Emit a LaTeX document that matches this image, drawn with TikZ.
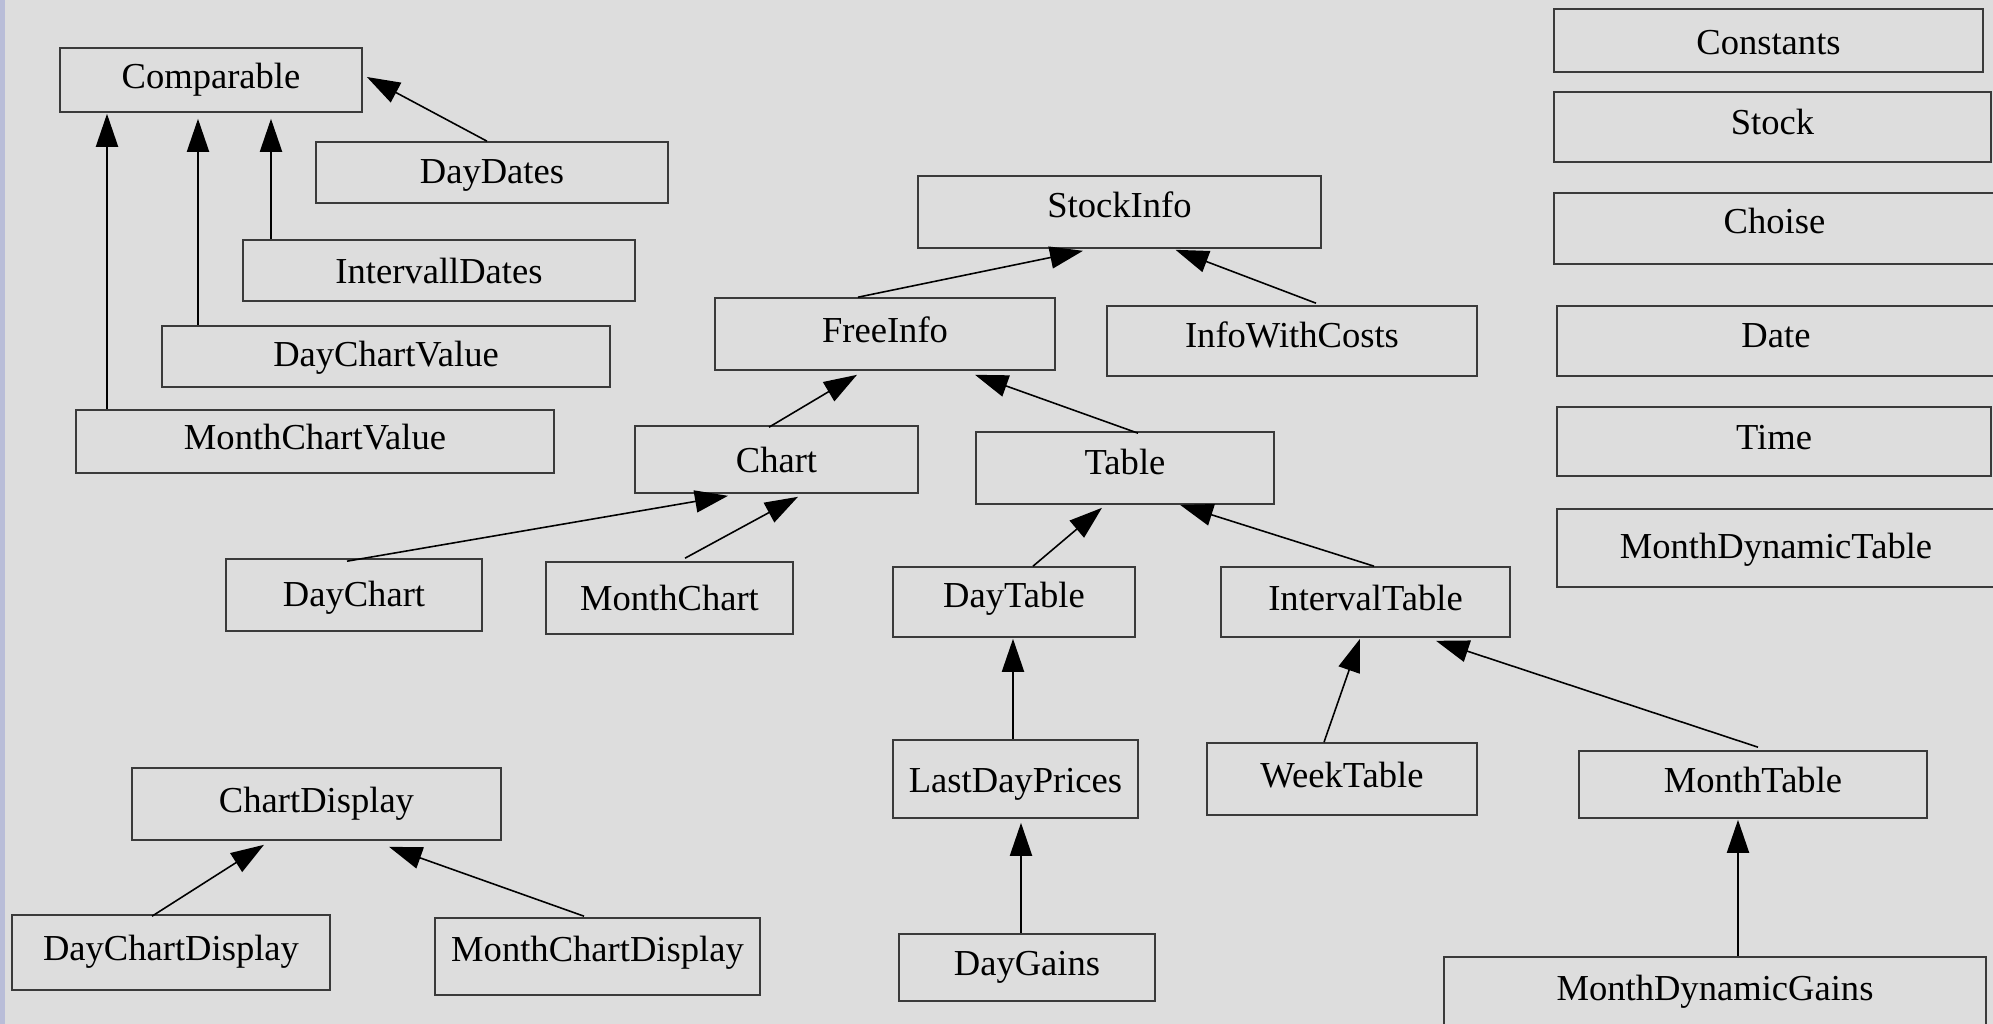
\documentclass[tikz,border=0pt]{standalone}
\usepackage{fontspec}
\setmainfont{Liberation Serif}
\usepackage{xcolor}
\usepackage{tikz}
\usetikzlibrary{arrows.meta,calc}

\definecolor{bg}{HTML}{DDDDDD}
\definecolor{strip}{HTML}{B9BDD8}
\definecolor{boxline}{HTML}{3A3A3A}

\tikzset{
  cls/.style={draw=boxline, line width=0.45pt, inner sep=0pt,
    font=\fontsize{10.4}{12}\selectfont, text height=7.2pt, text depth=2.6pt},
  tx/.style 2 args={text height=#1, text depth=#2},
  inh/.style={-{Triangle[length=9.4pt,width=6.3pt]}, line width=0.45pt, black}
}

\begin{document}
\begin{tikzpicture}[x=0.01cm, y=-0.01cm]
  \useasboundingbox (0,0) rectangle (1993,1024);
  \clip (0,0) rectangle (1993,1024);
  \fill[bg] (0,0) rectangle (1993,1024);
  \fill[strip] (0,0) rectangle (5,1024);

  % Comparable group
  \node[cls, minimum width=3.02cm, minimum height=0.64cm] (comp) at (211,80) {Comparable};
  \node[cls, tx={7.91pt}{1.89pt}, minimum width=3.52cm, minimum height=0.61cm] (dd) at (492,172.5) {DayDates};
  \node[cls, tx={8.48pt}{1.32pt}, minimum width=3.92cm, minimum height=0.61cm] (idd) at (439,270.5) {IntervallDates};
  \node[cls, tx={7.63pt}{2.17pt}, minimum width=4.48cm, minimum height=0.61cm] (dcv) at (386,356.5) {DayChartValue};
  \node[cls, minimum width=4.78cm, minimum height=0.63cm] (mcv) at (315,441.5) {MonthChartValue};

  % info tree
  \node[cls, tx={6.35pt}{3.45pt}, minimum width=4.03cm, minimum height=0.72cm] (si) at (1119.5,212) {StockInfo};
  \node[cls, minimum width=3.40cm, minimum height=0.72cm] (fi) at (885,334) {FreeInfo};
  \node[cls, tx={6.63pt}{3.17pt}, minimum width=3.70cm, minimum height=0.70cm] (iwc) at (1292,341) {InfoWithCosts};
  \node[cls, tx={8.48pt}{1.32pt}, minimum width=2.83cm, minimum height=0.67cm] (ch) at (776.5,459.5) {Chart};
  \node[cls, tx={6.63pt}{3.17pt}, minimum width=2.98cm, minimum height=0.72cm] (tb) at (1125,468) {Table};
  \node[cls, tx={8.05pt}{1.75pt}, minimum width=2.56cm, minimum height=0.72cm] (dch) at (354,595) {DayChart};
  \node[cls, tx={8.34pt}{1.46pt}, minimum width=2.47cm, minimum height=0.72cm] (mch) at (669.5,598) {MonthChart};
  \node[cls, tx={6.35pt}{3.45pt}, minimum width=2.42cm, minimum height=0.70cm] (dt) at (1014,602) {DayTable};
  \node[cls, minimum width=2.89cm, minimum height=0.70cm] (it) at (1365.5,602) {IntervalTable};
  \node[cls, tx={8.62pt}{1.18pt}, minimum width=2.45cm, minimum height=0.78cm] (ldp) at (1015.5,779) {LastDayPrices};
  \node[cls, minimum width=2.70cm, minimum height=0.72cm] (wt) at (1342,779) {WeekTable};
  \node[cls, minimum width=3.48cm, minimum height=0.67cm] (mt) at (1753,784.5) {MonthTable};
  \node[cls, minimum width=2.56cm, minimum height=0.67cm] (dg) at (1027,967.5) {DayGains};
  \node[cls, minimum width=5.42cm, minimum height=0.70cm] (mdg) at (1715,992) {MonthDynamicGains};

  % displays
  \node[cls, minimum width=3.69cm, minimum height=0.72cm] (cd) at (316.5,804) {ChartDisplay};
  \node[cls, minimum width=3.18cm, minimum height=0.75cm] (dcd) at (171,952.5) {DayChartDisplay};
  \node[cls, tx={6.2pt}{3.6pt}, minimum width=3.25cm, minimum height=0.77cm] (mcd) at (597.5,956.5) {MonthChartDisplay};

  % loose classes
  \node[cls, tx={8.76pt}{1.04pt}, minimum width=4.29cm, minimum height=0.63cm] (const) at (1768.5,40.5) {Constants};
  \node[cls, tx={6.92pt}{2.88pt}, minimum width=4.37cm, minimum height=0.70cm] (stock) at (1772.5,127) {Stock};
  \node[cls, tx={6.2pt}{3.6pt}, minimum width=4.41cm, minimum height=0.71cm] (choise) at (1774.5,228.5) {Choise};
  \node[cls, tx={6.77pt}{3.03pt}, minimum width=4.38cm, minimum height=0.70cm] (date) at (1776,341) {Date};
  \node[cls, minimum width=4.34cm, minimum height=0.69cm] (time) at (1774,441.5) {Time};
  \node[cls, tx={7.77pt}{2.03pt}, minimum width=4.38cm, minimum height=0.78cm] (mdt) at (1776,548) {MonthDynamicTable};

  % inheritance
  \draw[inh] ($(dd.north)+(-5,0)$) -- ($(comp.east)+(4,-3)$);
  \draw[inh] ($(idd.north)+(-168,0)$) -- ($(comp.south)+(60,6)$);
  \draw[inh] ($(dcv.north)+(-188,0)$) -- ($(comp.south)+(-13,6)$);
  \draw[inh] ($(mcv.north)+(-208,0)$) -- ($(comp.south)+(-104,1)$);
  \draw[inh] ($(fi.north)+(-27,0)$) -- ($(si.south)+(-36.5,2)$);
  \draw[inh] ($(iwc.north)+(24,-2)$) -- ($(si.south)+(56,1)$);
  \draw[inh] ($(ch.north)+(-7.5,2)$) -- ($(fi.south)+(-28,4)$);
  \draw[inh] ($(tb.north)+(13,2)$) -- ($(fi.south)+(90,4)$);
  \draw[inh] ($(dch.north)+(-7,3)$) -- ($(ch.south)+(-48.5,2)$);
  \draw[inh] ($(mch.north)+(15.5,-3)$) -- ($(ch.south)+(21.5,3)$);
  \draw[inh] ($(dt.north)+(19,0)$) -- ($(tb.south)+(-23,3)$);
  \draw[inh] ($(it.north)+(8.5,0)$) -- ($(tb.south)+(55,0)$);
  \draw[inh] ($(ldp.north)+(-2.5,0)$) -- ($(dt.south)+(-1,1)$);
  \draw[inh] ($(wt.north)+(-18,0)$) -- ($(it.south)+(-5.5,1)$);
  \draw[inh] ($(mt.north)+(5,-3)$) -- ($(it.south)+(70.5,3)$);
  \draw[inh] ($(dg.north)+(-6,0)$) -- ($(ldp.south)+(5.5,4)$);
  \draw[inh] ($(mdg.north)+(23,0)$) -- ($(mt.south)+(-15,1)$);
  \draw[inh] ($(dcd.north)+(-19,2)$) -- ($(cd.south)+(-52.5,4)$);
  \draw[inh] ($(mcd.north)+(-13.5,-1)$) -- ($(cd.south)+(72.5,6)$);
\end{tikzpicture}
\end{document}
